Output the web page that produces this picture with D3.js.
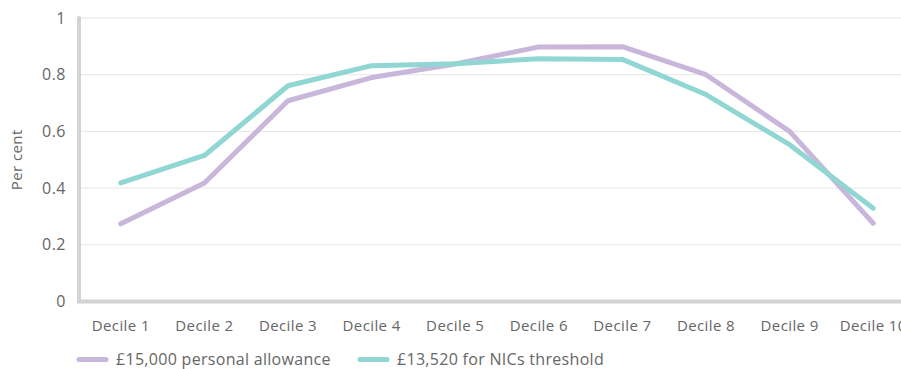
<!DOCTYPE html>
<html><head><meta charset="utf-8">
<script src="https://cdn.jsdelivr.net/npm/d3@7"></script>
<style>body{margin:0;background:#fff}svg{display:block;font-family:"Open Sans",sans-serif}</style>
</head><body>
<svg id="c" width="901" height="369"></svg>
<script>
const categories = ["Decile 1","Decile 2","Decile 3","Decile 4","Decile 5","Decile 6","Decile 7","Decile 8","Decile 9","Decile 10"];
const personalAllowance = [0.274,0.418,0.708,0.79,0.838,0.898,0.899,0.80,0.60,0.276];
const nicsThreshold = [0.418,0.515,0.761,0.832,0.839,0.856,0.854,0.73,0.553,0.329];
const yTicks = [0,0.2,0.4,0.6,0.8,1];
const seriesNames = ["£15,000 personal allowance","£13,520 for NICs threshold"];
const colors = ["#c9b6db","#90d6d2"];

(function(){
const svg = d3.select("#c");
const mLeft = 79, mRight = 915, mTop = 18, mBottom = 301.5;
const x = d3.scaleBand().domain(categories).range([mLeft, mRight]);
const y = d3.scaleLinear().domain([0,1]).range([mBottom, mTop]);
const font = '"Open Sans",sans-serif';

svg.append("g").selectAll("line").data(yTicks.filter(d=>d>0)).join("line")
  .attr("x1", mLeft).attr("x2", 901).attr("y1", d=>y(d)).attr("y2", d=>y(d))
  .attr("stroke", "#e6e6e6").attr("stroke-width", 1);

const ya = svg.append("g").attr("transform", `translate(${mLeft},0)`)
  .call(d3.axisLeft(y).tickValues(yTicks).tickFormat(d3.format("~g")).tickSize(0).tickPadding(13));
ya.select(".domain").remove();
ya.selectAll("text").attr("font-size", 16).attr("letter-spacing", 0.5).attr("fill", "#666").attr("font-family",font);

const xa = svg.append("g").attr("transform", `translate(0,${mBottom})`)
  .call(d3.axisBottom(x).tickSize(0).tickPadding(19));
xa.select(".domain").remove();
xa.selectAll("text").attr("font-size", 15).attr("letter-spacing", 0.4).attr("fill", "#666").attr("font-family",font);

svg.append("path").attr("d", `M${mLeft},${mTop} V${mBottom} H901`)
  .attr("fill","none").attr("stroke","#d3d3d3").attr("stroke-width",4).attr("stroke-linecap","round");

svg.append("text").attr("transform", `translate(22,${(mTop+mBottom)/2}) rotate(-90)`)
  .attr("text-anchor","middle").attr("font-size",15).attr("letter-spacing", 0.4).attr("fill","#666").attr("font-family",font).text("Per cent");

const line = d3.line().x((d,i)=>x(categories[i]) + x.bandwidth()/2).y(d=>y(d));
[personalAllowance, nicsThreshold].forEach((s,k)=>{
  svg.append("path").datum(s).attr("d", line).attr("fill","none")
    .attr("stroke", colors[k]).attr("stroke-width",5)
    .attr("stroke-linecap","round").attr("stroke-linejoin","round");
});

const lg = [79,360];
seriesNames.forEach((n,k)=>{
  const g = svg.append("g").attr("transform", `translate(${lg[k]},359.5)`);
  g.append("line").attr("x1",0).attr("x2",27).attr("y1",0).attr("y2",0)
    .attr("stroke",colors[k]).attr("stroke-width",5).attr("stroke-linecap","round");
  g.append("text").attr("x",37).attr("y",5).attr("font-size",16).attr("letter-spacing", 0.3).attr("fill","#666").attr("font-family",font).text(n);
});
})();
</script>
</body></html>
